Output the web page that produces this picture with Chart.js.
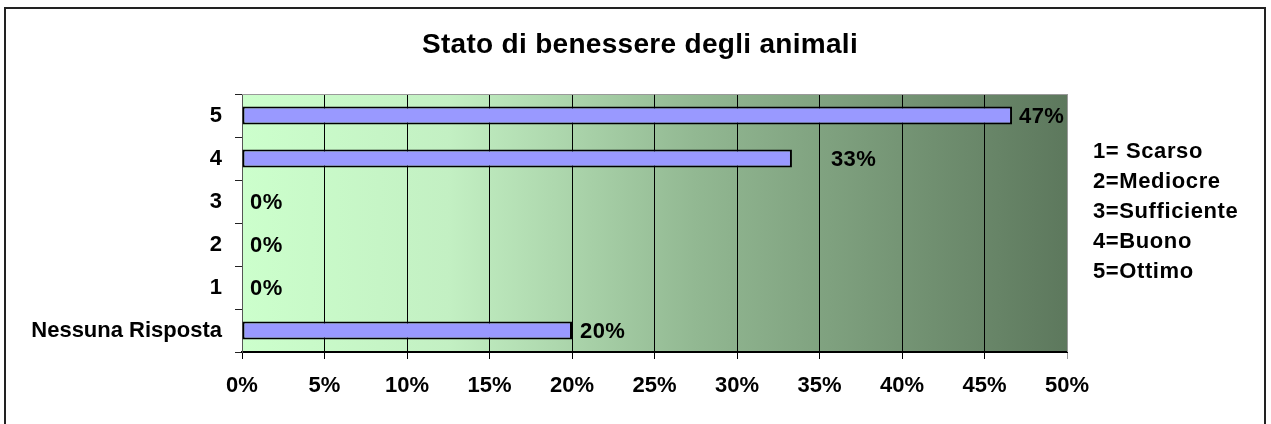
<!DOCTYPE html>
<html>
<head>
<meta charset="utf-8">
<script src="https://cdn.jsdelivr.net/npm/chart.js@4/dist/chart.umd.min.js"></script>
<style>
  body { margin: 0; background: #fff; }
</style>
</head>
<body>
<canvas id="benessere" width="1271" height="424"></canvas>
<script>
const categories = ['5', '4', '3', '2', '1', 'Nessuna Risposta']
const values = [46.67, 33.33, 0, 0, 0, 20]
const valueLabels = ['47%', '33%', '0%', '0%', '0%', '20%']
const legendLines = ['1= Scarso', '2=Mediocre', '3=Sufficiente', '4=Buono', '5=Ottimo']
const chartTitle = 'Stato di benessere degli animali'

// gap between bar end and its label (Excel pushed the 33% one out)
const labelGap = [7, 39, 8, 8, 8, 8]

const FONT = '"Liberation Sans", Arial, sans-serif'

const decor = {
  id: 'decor',
  beforeDraw(chart) {
    const { ctx, chartArea: a } = chart
    ctx.save()
    ctx.fillStyle = '#fff'
    ctx.fillRect(0, 0, chart.width, chart.height)
    const g = ctx.createLinearGradient(a.left, 0, a.right, 0)
    g.addColorStop(0, '#ccffcc')
    g.addColorStop(0.25, '#c3f0c3')
    g.addColorStop(0.55, '#92b892')
    g.addColorStop(1, '#5d785d')
    ctx.fillStyle = g
    ctx.fillRect(a.left, a.top, a.right - a.left, a.bottom - a.top)
    ctx.restore()
  },
  afterDatasetsDraw(chart) {
    const { ctx, chartArea: a } = chart
    ctx.save()
    // plot frame top / right
    ctx.strokeStyle = '#9a9a9a'
    ctx.lineWidth = 1
    ctx.beginPath()
    ctx.moveTo(a.left, a.top + 0.5)
    ctx.lineTo(a.right + 0.5, a.top + 0.5)
    ctx.lineTo(a.right + 0.5, a.bottom)
    ctx.stroke()

    // value labels
    ctx.font = 'bold 22px ' + FONT
    ctx.letterSpacing = '0.4px'
    ctx.fillStyle = '#000'
    ctx.textBaseline = 'middle'
    ctx.textAlign = 'left'
    chart.getDatasetMeta(0).data.forEach((bar, i) => {
      ctx.fillText(valueLabels[i], bar.x + labelGap[i], bar.y + 1)
    })
    ctx.restore()
  },
  afterDraw(chart) {
    const { ctx } = chart
    ctx.save()
    ctx.fillStyle = '#000'
    ctx.textBaseline = 'middle'
    ctx.textAlign = 'center'
    ctx.font = 'bold 28px ' + FONT
    ctx.letterSpacing = '0.3px'
    ctx.fillText(chartTitle, 640, 45)

    ctx.textAlign = 'left'
    ctx.font = 'bold 22px ' + FONT
    ctx.letterSpacing = '0.6px'
    legendLines.forEach((t, i) => {
      ctx.fillText(t, 1093, 152 + i * 30)
    })

    // outer frame
    ctx.strokeStyle = '#222'
    ctx.lineWidth = 2
    ctx.strokeRect(5, 8, 1260, 430)
    ctx.restore()
  }
}

const ctx = document.querySelector('#benessere').getContext('2d')
const myChart = new Chart(ctx, {
  type: 'bar',
  data: {
    labels: categories,
    datasets: [{
      data: values,
      backgroundColor: '#9999ff',
      borderColor: '#000',
      borderWidth: 2,
      borderSkipped: false,
      barPercentage: 0.7,
      categoryPercentage: 0.6
    }]
  },
  options: {
    indexAxis: 'y',
    responsive: false,
    animation: false,
    layout: {
      padding: { top: 94, right: 204, bottom: 0, left: 0 }
    },
    plugins: {
      legend: { display: false },
      title: { display: false },
      tooltip: { enabled: false }
    },
    scales: {
      x: {
        min: 0,
        max: 50,
        afterFit: scale => { scale.height = 72 },
        ticks: {
          stepSize: 5,
          padding: 14,
          color: '#000',
          font: { family: FONT, size: 22, weight: 'bold' },
          callback: v => v + '%'
        },
        grid: {
          color: c => c.tick && c.tick.value === 50 ? '#9a9a9a' : '#000',
          lineWidth: 1,
          tickLength: 7
        },
        border: { color: '#000', width: 2 }
      },
      y: {
        afterFit: scale => { scale.width = 242 },
        ticks: {
          padding: 13,
          color: '#000',
          font: { family: FONT, size: 22, weight: 'bold' }
        },
        grid: {
          drawOnChartArea: false,
          tickLength: 7,
          color: '#222'
        },
        border: { color: '#555', width: 1 }
      }
    }
  },
  plugins: [decor]
})
</script>
</body>
</html>
